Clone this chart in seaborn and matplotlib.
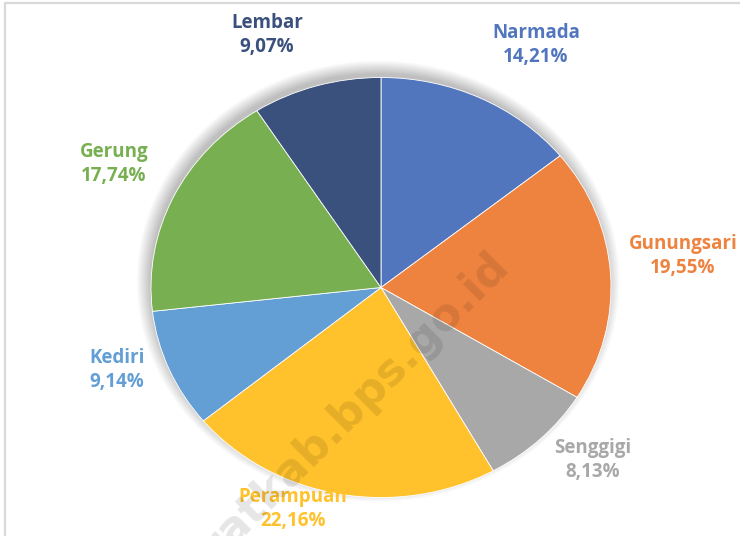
import numpy as np
import pandas as pd
import seaborn as sns
import matplotlib.pyplot as plt
from matplotlib.patches import Ellipse
from matplotlib.lines import Line2D

# Data
kecamatan = ['Narmada', 'Gunungsari', 'Senggigi', 'Perampuan', 'Kediri', 'Gerung', 'Lembar']
persen = [14.21, 19.55, 8.13, 22.16, 9.14, 17.74, 9.07]
warna = ['#5276BD', '#EE8340', '#A8A8A8', '#FFC22C', '#639FD4', '#78AF50', '#3A507D']

# label block centres in pixels (layout only)
label_px = [(536, 45), (683, 256), (593, 460), (293, 509), (117, 370), (114, 164), (267, 35)]

df = pd.DataFrame({'Kecamatan': kecamatan, 'Persen': persen, 'Warna': warna})

sns.set_theme(style='white')
plt.rcParams['font.family'] = ['Open Sans', 'DejaVu Sans']

W, H = 740, 536
fig = plt.figure(figsize=(W / 100, H / 100), dpi=100)
ax = fig.add_axes([0, 0, 1, 1])

# pie geometry in pixels: centre and radii (slightly elliptical, like the source)
cx, cy, rx, ry = 381, 287.5, 230, 210

# soft blurred shadow behind the pie, mostly showing along the top edge
for k in range(16):
    s = 0.99 + 0.004 * k
    ax.add_patch(Ellipse((-0.012, 0.03), 2 * s, 2 * s, facecolor='black',
                         alpha=0.014, edgecolor='none', zorder=0))

wedges, _ = ax.pie(df['Persen'], colors=df['Warna'], startangle=90, counterclock=False,
                   wedgeprops=dict(edgecolor='white', linewidth=0.6))
for w in wedges:
    w.set_zorder(2)

ax.set_aspect('auto')
ax.set_xlim(-cx / rx, (W - cx) / rx)
ax.set_ylim((cy - H) / ry, cy / ry)
ax.axis('off')

# data labels
for (name, val, col), (px, py) in zip(df[['Kecamatan', 'Persen', 'Warna']].values, label_px):
    txt = f"{name}\n{val:.2f}%".replace('.', ',')
    fig.text(px / W, 1 - py / H, txt, ha='center', va='center', color=col,
             fontsize=13.5, fontweight='bold', linespacing=1.25)

# watermark
fig.text(510 / W, 1 - 267 / H, 'lombokbaratkab.bps.go.id', ha='right', va='baseline',
         rotation=45, rotation_mode='anchor', fontsize=32, fontweight='bold',
         family='DejaVu Sans', color='black', alpha=0.1, zorder=10)

# chart frame (top and left edges visible)
fig.add_artist(Line2D([5 / W, 1], [1 - 3 / H, 1 - 3 / H], color='#D9D9D9', lw=1.6))
fig.add_artist(Line2D([5 / W, 5 / W], [0, 1 - 3 / H], color='#D9D9D9', lw=1.6))

fig.savefig('out.png', dpi=100)
